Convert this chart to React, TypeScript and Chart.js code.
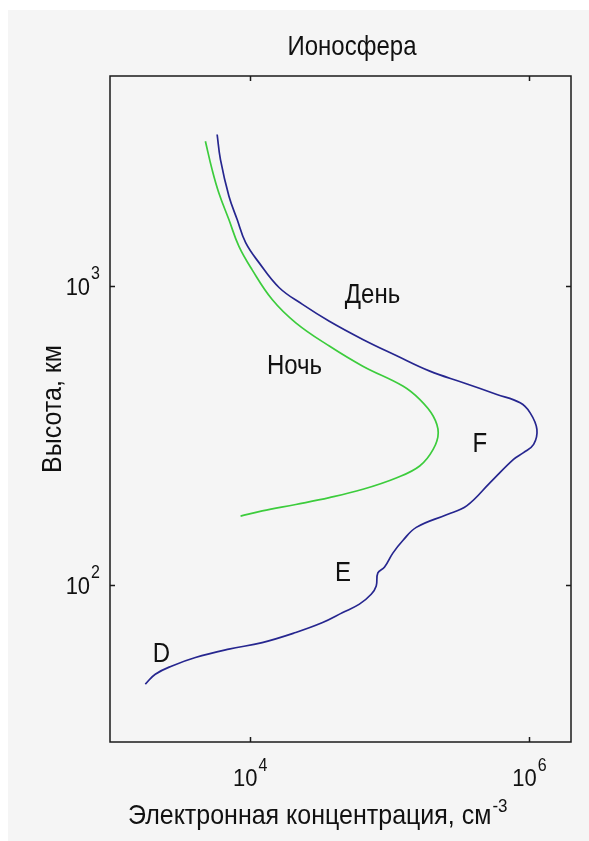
import React, { useEffect, useRef } from "react";
import { Chart, registerables } from "chart.js";

Chart.register(...registerables);

// Electron concentration (cm^-3) and altitude (km) — daytime profile
const dayDensity = [
  5850, 6180, 7100, 8140, 9360, 11700, 16300, 23900, 37200, 64600, 112000, 195000,
  339000, 589000, 865000, 1020000, 1140000, 1080000, 914000, 775000, 527000, 358000,
  257000, 156000, 125000, 106000, 92500, 82800, 80600, 74200, 61100, 46400, 33300,
  21400, 12300, 7100, 4090, 2780, 2110, 1790,
];
const dayAltitude = [
  3190, 2630, 1990, 1660, 1390, 1190, 983, 865, 760, 661, 584, 518,
  474, 433, 406, 376, 331, 295, 277, 263, 220, 184,
  172, 156, 141, 128, 115, 110, 99.5, 93.3, 86.5, 81.1, 75.1,
  69.6, 64.4, 61.2, 57.4, 53.8, 50.5, 46.8,
];

// Night-time profile
const nightDensity = [
  4820, 5380, 6010, 7100, 8380, 10400, 14500, 21400, 37200, 64600, 125000, 165000,
  206000, 224000, 206000, 165000, 112000, 64600, 37200, 21400, 12300, 8610,
];
const nightAltitude = [
  3030, 2440, 2040, 1660, 1350, 1130, 898, 751, 628, 538, 462, 417,
  367, 323, 284, 250, 228, 209, 196, 186, 177, 170,
];

// Axis ranges and ticks
const xRange = [1000, 2000000];
const yRange = [30, 5000];
const xTicks = [10000, 1000000];
const xTickExp = ["4", "6"];
const yTicks = [100, 1000];
const yTickExp = ["2", "3"];

// Texts
const titleText = "Ионосфера";
const xLabelText = "Электронная концентрация, см";
const xLabelSup = "-3";
const yLabelText = "Высота, км";

// In-plot annotations (text, anchored at data coordinates: left / baseline)
const noteTexts = ["День", "Ночь", "F", "E", "D"];
const noteX = [48000, 13300, 395000, 40800, 2020];
const noteY = [875, 507, 279, 103, 55.5];

const FONT = '"Liberation Sans", Arial, sans-serif';
const SY = 1.12;

function drawText(
  ctx: CanvasRenderingContext2D,
  s: string,
  x: number,
  y: number,
  size: number,
  align: CanvasTextAlign = "left",
  rot = 0
) {
  ctx.save();
  ctx.translate(x, y);
  if (rot) ctx.rotate(rot);
  ctx.scale(1, SY);
  ctx.font = `${size}px ${FONT}`;
  ctx.textAlign = align;
  ctx.textBaseline = "alphabetic";
  ctx.fillStyle = "#111";
  ctx.fillText(s, 0, 0);
  ctx.restore();
}

function measure(ctx: CanvasRenderingContext2D, s: string, size: number) {
  ctx.save();
  ctx.font = `${size}px ${FONT}`;
  const w = ctx.measureText(s).width;
  ctx.restore();
  return w;
}

const framePlugin = {
  id: "matlabFrame",
  afterDatasetsDraw(chart: any) {
    const ctx: CanvasRenderingContext2D = chart.ctx;
    const { left, right, top, bottom } = chart.chartArea;
    const xs = chart.scales.x;
    const ys = chart.scales.y;

    // box
    ctx.save();
    ctx.strokeStyle = "#1a1a1a";
    ctx.lineWidth = 1.5;
    ctx.strokeRect(left, top, right - left, bottom - top);

    // ticks (inward, mirrored)
    const tl = 5;
    ctx.beginPath();
    xTicks.forEach((v) => {
      const px = Math.round(xs.getPixelForValue(v)) + 0.5;
      ctx.moveTo(px, bottom);
      ctx.lineTo(px, bottom - tl);
      ctx.moveTo(px, top);
      ctx.lineTo(px, top + tl);
    });
    yTicks.forEach((v) => {
      const py = Math.round(ys.getPixelForValue(v)) + 0.5;
      ctx.moveTo(left, py);
      ctx.lineTo(left + tl, py);
      ctx.moveTo(right, py);
      ctx.lineTo(right - tl, py);
    });
    ctx.stroke();
    ctx.restore();

    const baseSize = 22;
    const supSize = 16;

    // x tick labels 10^n centered on tick
    xTicks.forEach((v, i) => {
      const px = xs.getPixelForValue(v);
      const wb = measure(ctx, "10", baseSize);
      const ws = measure(ctx, xTickExp[i], supSize);
      const x0 = px - (wb + ws) / 2;
      const by = bottom + 44;
      drawText(ctx, "10", x0, by, baseSize);
      drawText(ctx, xTickExp[i], x0 + wb + 1, by - 15, supSize);
    });

    // y tick labels 10^n right-aligned left of axis
    yTicks.forEach((v, i) => {
      const py = ys.getPixelForValue(v);
      const ws = measure(ctx, yTickExp[i], supSize);
      const xr = left - 10;
      drawText(ctx, yTickExp[i], xr, py - 7, supSize, "right");
      drawText(ctx, "10", xr - ws - 1, py + 9, baseSize, "right");
    });

    // title
    drawText(ctx, titleText, 344, 45, 24, "center");

    // x label
    const xlx = 120;
    const xly = 814;
    drawText(ctx, xLabelText, xlx, xly, 25);
    const wl = measure(ctx, xLabelText, 25);
    drawText(ctx, xLabelSup, xlx + wl + 1, xly - 12, 17);

    // y label (rotated)
    drawText(ctx, yLabelText, 53, (top + bottom) / 2, 25, "center", -Math.PI / 2);

    // annotations
    noteTexts.forEach((t, i) => {
      drawText(ctx, t, xs.getPixelForValue(noteX[i]), ys.getPixelForValue(noteY[i]), 24);
    });
  },
};

export default function App() {
  const ref = useRef<HTMLCanvasElement | null>(null);

  useEffect(() => {
    if (!ref.current) return;
    const day = dayDensity.map((x, i) => ({ x, y: dayAltitude[i] }));
    const night = nightDensity.map((x, i) => ({ x, y: nightAltitude[i] }));
    const chart = new Chart(ref.current, {
      type: "scatter",
      data: {
        datasets: [
          {
            label: "День",
            data: day,
            showLine: true,
            borderColor: "#26268f",
            borderWidth: 1.7,
            pointRadius: 0,
            tension: 0.4,
          },
          {
            label: "Ночь",
            data: night,
            showLine: true,
            borderColor: "#3ccc3c",
            borderWidth: 1.7,
            pointRadius: 0,
            tension: 0.4,
          },
        ],
      },
      options: {
        responsive: false,
        animation: false,
        devicePixelRatio: 1,
        layout: { padding: { left: 102, top: 66, right: 18, bottom: 99 } },
        plugins: {
          legend: { display: false },
          title: { display: false },
          tooltip: { enabled: false },
        },
        scales: {
          x: { type: "logarithmic", min: xRange[0], max: xRange[1], display: false },
          y: { type: "logarithmic", min: yRange[0], max: yRange[1], display: false },
        },
      },
      plugins: [framePlugin],
    });
    return () => chart.destroy();
  }, []);

  return (
    <div
      style={{
        position: "fixed",
        left: 8,
        top: 10,
        width: 581,
        height: 831,
        background: "#f5f5f5",
      }}
    >
      <canvas ref={ref} width={581} height={831} style={{ display: "block" }} />
    </div>
  );
}
